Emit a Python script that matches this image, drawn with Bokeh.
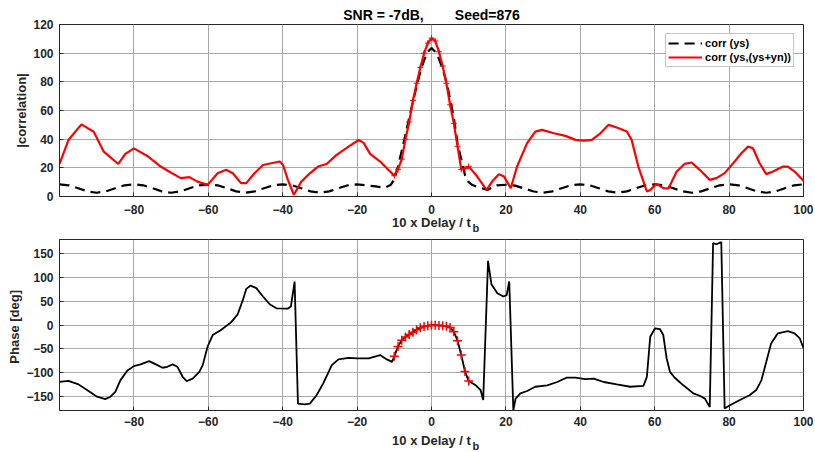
from bokeh.plotting import figure
from bokeh.layouts import column
from bokeh.models import Range1d, FixedTicker, Legend, LegendItem, Title
from bokeh.embed import file_html
from bokeh.resources import INLINE

# ---------------- data ----------------
x_ticks = [-80, -60, -40, -20, 0, 20, 40, 60, 80, 100]
corr_ticks = [0, 20, 40, 60, 80, 100, 120]
phase_ticks = [-150, -100, -50, 0, 50, 100, 150]

# corr (ys) : black dashed
blk_left_x = [-100, -97.5, -95, -92.5, -90, -87.5, -85, -82.5, -80, -77.5, -75, -72.5, -70, -67.5,
              -65, -62.5, -60, -57.5, -55, -52.5, -50, -47.5, -45, -42.5, -40, -37.5, -35, -32.5,
              -30, -27.5, -25, -22.5, -20, -17.5, -15, -12.5]
blk_left_y = [8.5, 7.8, 5.8, 3.6, 2.6, 3.6, 5.8, 7.8, 8.5, 7.8, 5.8, 3.6, 2.6, 3.6,
              5.8, 7.8, 8.3, 7.8, 5.8, 3.6, 2.6, 3.6, 5.8, 7.8, 8.5, 7.8, 5.8, 3.6,
              2.6, 3.6, 5.8, 7.8, 8.5, 7.8, 7.0, 6.2]
blk_mid_x = [-11, -10, -9, -8, -7, -6, -5, -4, -3, -2, -1, 0, 1, 2, 3, 4, 5, 6, 7, 8, 9, 10, 11, 12]
blk_mid_y = [8, 12, 21, 32, 43, 55, 66, 77, 87, 95, 101, 103.5, 101, 96, 89, 80, 68, 55, 37, 26, 15, 10, 8, 7]
blk_right_x = [15, 17.5, 20, 22.5, 25, 27.5, 30, 32.5, 35, 37.5, 40, 42.5, 45, 47.5, 50, 52.5, 55,
               57.5, 60, 62.5, 65, 67.5, 70, 72.5, 75, 77.5, 80, 82.5, 85, 87.5, 90, 92.5, 95, 97.5, 100]
blk_right_y = [4.6, 7.8, 8.2, 7.6, 5.5, 3.5, 2.6, 3.6, 5.8, 7.8, 8.5, 7.8, 5.8, 3.6, 2.6, 3.6, 5.8,
               7.8, 8.5, 7.8, 5.8, 3.6, 2.6, 3.6, 5.8, 7.8, 8.5, 7.8, 5.8, 3.6, 2.6, 3.6, 5.8, 7.8, 8.5]

# corr (ys,(ys+yn)) : red
red_left_x = [-100, -97.6, -94.1, -90.8, -88.1, -84.2, -82.3, -80, -76.4, -72.8, -70.1, -67.4, -65.1,
              -62.9, -60.2, -57.5, -55.2, -53.4, -51.2, -49.8, -47.6, -45.3, -43.1, -40.8, -39.9,
              -38.6, -37, -35, -32.7, -30.5, -28.2, -25.5, -22.3, -19.6, -18.3, -16.5, -13.8, -11.6]
red_left_y = [22.7, 39.4, 50.3, 45.2, 31.3, 22.7, 29.7, 33.6, 28.3, 20.9, 16.7, 12.8, 13.5,
              10.4, 8.1, 16.2, 18.6, 16.2, 9.3, 9.3, 16.2, 22, 23.2, 24.4, 22,
              11.6, 1.2, 10.4, 16.2, 20.9, 22.7, 29, 34.8, 39.4, 37.6, 29.7, 24.4, 18.6]
mid_x = [-10, -9, -8, -7, -6, -5, -4, -3, -2, -1, 0, 1, 2, 3, 4, 5, 6, 7, 8, 9, 10]
red_mid_y = [14.5, 19, 26, 40, 52, 67, 79, 90, 100, 107, 110.5, 108.5, 101, 91, 79, 64, 51, 35, 18.8, 19.5, 21]
red_right_x = [12.3, 14.8, 16.3, 18.1, 19.5, 21.3, 23, 25.7, 27.9, 29.7, 32.9, 36, 38.7, 40.9, 43.1,
               45.4, 47.6, 49.8, 52.5, 53.8, 55.6, 57.9, 58.8, 60.5, 62.3, 63.7, 65.9, 68.1, 69.9,
               72.1, 74.8, 76.6, 78.8, 81.1, 83.3, 85.1, 86.4, 88.2, 90, 91.8, 94.5, 95.8, 97.6, 100]
red_right_y = [13.9, 4.6, 10.4, 15.6, 13.9, 5.8, 20.9, 37.2, 45.3, 46.5, 44.1, 42.3, 39.5, 39, 39.5,
               44.1, 50, 48.1, 45.3, 39.5, 20.9, 3.5, 4.6, 8.8, 5.8, 5.6, 17.4, 22.8, 23.7,
               18.6, 11.6, 12.8, 16.3, 23.2, 30.2, 34.8, 33.7, 23.2, 15.6, 17.4, 20.9, 20.9, 17.4, 11]

# phase [deg]
ph_left_x = [-100, -97.6, -94.9, -92.6, -89.9, -87.7, -86.3, -85, -83.6, -81.8, -80, -78.2, -75.9,
             -74.1, -72.3, -71, -69.6, -68.3, -66.9, -65.8, -64.2, -62.4, -61.5, -60.2, -58.8, -56.6,
             -53.9, -52.1, -50.7, -49.8, -48.6, -47.1, -45.3, -43.5, -41.7, -38.6, -37.8, -36.8,
             -35.9, -34.1, -32.7, -30.9, -29.1, -26.8, -25, -22.3, -20.1, -16.9, -13.8, -12, -10.6]
ph_left_y = [-119.7, -117.6, -125, -137, -151, -156, -151, -141, -116, -96.5, -86.6, -83, -76,
             -83, -90, -88, -83, -88, -109, -118, -113, -98.6, -84.5, -45.8, -21, -10.6,
             5.6, 22.5, 52.8, 76, 83, 77.5, 60, 43.7, 35.2, 34.5, 38.7, 91.5,
             -165.5, -167, -165.5, -148, -123, -84.5, -72.5, -69, -70.4, -70.4, -63.4, -72.5, -77.5]
ph_mid_y = [-66, -45, -32, -25, -20, -15, -10, -6, -3, -1.5, -0.5, -0.5, -1, -1.5, -2.5, -5, -14, -33, -63, -98, -118]
ph_right_x = [11.9, 13.2, 13.9, 15.2, 16.1, 17.7, 19.3, 20.2, 20.9, 22, 22.6, 23.9, 25.7, 27.9, 31.1,
              33.8, 36.4, 38.7, 41.3, 43.6, 46.3, 49.8, 53.4, 57, 57.9, 58.8, 60.1, 61.4, 62.3, 63.2,
              64.1, 65.4, 67.7, 70.4, 72.1, 73.5, 74.8, 75.7, 76.6, 77.9, 78.8, 80.2, 82.9, 85.5,
              87.3, 88.7, 90, 91.3, 93.1, 95.8, 97.6, 99, 100]
ph_right_y = [-127, -137, -158, 135, 86, 67, 60, 63, 91.5, -179.6, -155, -144, -139, -130, -127,
              -120, -110.6, -111, -114, -112.7, -120, -125, -130, -128, -109, -24.6, -7, -8.5, -21, -70,
              -98.6, -111, -127, -144, -149, -155, -172.5, 172.5, 170, 174.6, -176, -169, -158, -148,
              -137, -116, -77.5, -38.7, -17.6, -12.7, -17.6, -28, -49]

FONT = "Liberation Sans"
AX = "#262626"


def make_fig(fh, y0, y1, yticks, top, bottom, ylabel, lab_standoff, ax_standoff, sub_standoff):
    p = figure(frame_width=744, frame_height=fh, x_range=Range1d(-100, 100), y_range=Range1d(y0, y1),
               output_backend="svg", toolbar_location=None,
               min_border_left=59, min_border_right=10, min_border_top=top, min_border_bottom=bottom)
    p.outline_line_color = AX
    p.outline_line_width = 1
    p.outline_line_alpha = 1
    p.background_fill_color = "white"
    p.border_fill_color = "white"
    p.xaxis.ticker = FixedTicker(ticks=x_ticks)
    p.yaxis.ticker = FixedTicker(ticks=yticks)
    for g in (p.xgrid, p.ygrid):
        g.grid_line_color = "#a8a8a8"
        g.grid_line_width = 1
    p.xgrid.ticker = FixedTicker(ticks=x_ticks)
    p.ygrid.ticker = FixedTicker(ticks=yticks)
    for ax in (p.xaxis, p.yaxis):
        ax.axis_line_color = AX
        ax.major_tick_line_color = AX
        ax.major_tick_in = 4
        ax.major_tick_out = 0
        ax.minor_tick_line_color = None
        ax.major_label_text_font = FONT
        ax.major_label_text_font_style = "bold"
        ax.major_label_text_font_size = "12px"
        ax.major_label_text_color = AX
        ax.axis_label_text_font = FONT
        ax.axis_label_text_font_style = "bold"
        ax.axis_label_text_font_size = "13px"
        ax.axis_label_text_color = AX
    p.xaxis.axis_label = "10 x Delay / t"
    p.xaxis.major_label_standoff = lab_standoff
    p.xaxis.axis_label_standoff = ax_standoff
    p.yaxis.axis_label = ylabel
    p.yaxis.major_label_standoff = 6
    p.yaxis.axis_label_standoff = 1
    # subscript "b" of t_b, placed just after the axis label
    p.add_layout(Title(text="b", align="left", offset=413, vertical_align="top", standoff=sub_standoff,
                       text_font=FONT, text_font_style="bold", text_font_size="11px", text_color=AX),
                 "below")
    return p


# ---------------- top: correlation magnitude ----------------
p1 = make_fig(172, 0, 120, corr_ticks, 24, 38, "|correlation|", 8, -2, -21)
p1.title.text = "SNR = -7dB,\u00a0\u00a0\u00a0\u00a0\u00a0\u00a0\u00a0\u00a0Seed=876"
p1.title.align = "center"
p1.title.text_font = FONT
p1.title.text_font_style = "bold"
p1.title.text_font_size = "14px"
p1.title.text_color = "black"
p1.title.standoff = 4

blk_x = blk_left_x + blk_mid_x + blk_right_x
blk_y = blk_left_y + blk_mid_y + blk_right_y
red_x = red_left_x + mid_x + red_right_x
red_y = red_left_y + red_mid_y + red_right_y
r_blk = p1.line(blk_x, blk_y, line_color="black", line_width=2.2, line_dash="10 6")
r_red = p1.line(red_x, red_y, line_color="#ff0000", line_width=2.2)
p1.scatter(mid_x, red_mid_y, marker="cross", size=6, line_color="#ff0000", line_width=1)

legend = Legend(items=[LegendItem(label="corr (ys)", renderers=[r_blk]),
                       LegendItem(label="corr (ys,(ys+yn))", renderers=[r_red])],
                location="top_right", margin=9, padding=2, spacing=0,
                glyph_width=34, glyph_height=14, label_height=14, label_standoff=3,
                label_text_font=FONT, label_text_font_style="bold", label_text_font_size="11px",
                label_text_color="black",
                border_line_color="#8c8c8c", border_line_width=1, background_fill_alpha=1)
p1.add_layout(legend)

# ---------------- bottom: phase ----------------
p2 = make_fig(171, -180, 180, phase_ticks, 5, 42, "Phase  [deg]", 6, 4, -21)
ph_x = ph_left_x + mid_x + ph_right_x
ph_y = ph_left_y + ph_mid_y + ph_right_y
p2.line(ph_x, ph_y, line_color="black", line_width=1.8)
p2.scatter(mid_x, ph_mid_y, marker="cross", size=9, line_color="#ff0000", line_width=1.5)

layout = column(p1, p2, spacing=0)
open("out.html", "w").write(file_html(layout, INLINE))
